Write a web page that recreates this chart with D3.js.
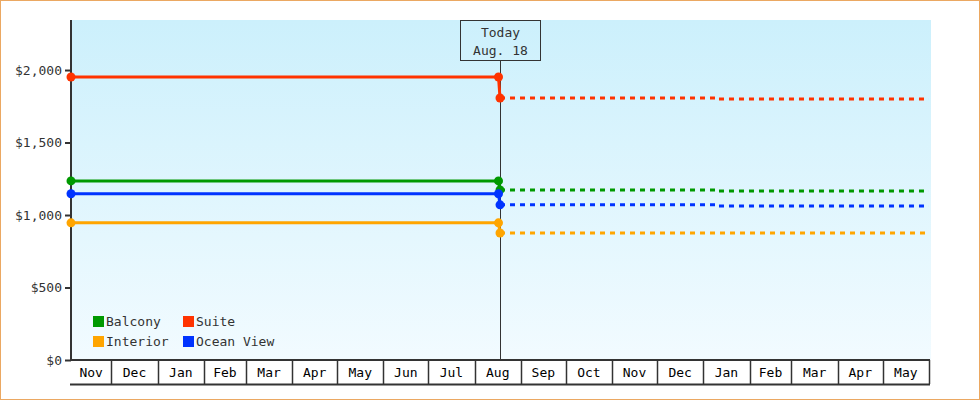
<!DOCTYPE html>
<html>
<head>
<meta charset="utf-8">
<script src="https://cdn.jsdelivr.net/npm/d3@7"></script>
<style>
  body { margin: 0; background: #fff; }
  svg { display: block; font-family: "DejaVu Sans Mono", monospace; }
</style>
</head>
<body>
<div id="chart"></div>
<script>
// Data
const seriesNames = ["Balcony", "Suite", "Interior", "Ocean View"];
const seriesColors = ["#009900", "#ff3300", "#ffa500", "#0033ff"];

// historic prices (solid), last point is today's value
const pastDates = ["2013-11-04", "2014-08-17", "2014-08-18"];
const pastBalcony = [1235, 1235, 1173];
const pastSuite = [1952, 1952, 1807];
const pastInterior = [946, 946, 876];
const pastOceanView = [1147, 1147, 1070];

// forecast prices (dashed)
const futureDates = ["2014-08-18", "2015-01-10", "2015-06-01"];
const futureBalcony = [1173, 1166, 1166];
const futureSuite = [1807, 1800, 1800];
const futureInterior = [876, 876, 876];
const futureOceanView = [1070, 1063, 1063];

const yTicks = [0, 500, 1000, 1500, 2000];
const todayLabel = ["Today", "Aug. 18"];
const todayDate = "2014-08-18";
const domainStart = "2013-11-04";
const domainEnd = "2015-06-01";

const parse = d3.timeParse("%Y-%m-%d");
const pastValues = [pastBalcony, pastSuite, pastInterior, pastOceanView];
const futureValues = [futureBalcony, futureSuite, futureInterior, futureOceanView];

const width = 980, height = 400;
const plot = {left: 71, right: 929, top: 20, bottom: 360};

const svg = d3.select("#chart").append("svg")
    .attr("width", width)
    .attr("height", height);

// outer frame
svg.append("rect")
    .attr("x", 0.5).attr("y", 0.5)
    .attr("width", width - 1).attr("height", height - 1)
    .attr("fill", "#fff")
    .attr("stroke", "#eba862");

const x = d3.scaleTime()
    .domain([parse(domainStart), parse(domainEnd)])
    .range([plot.left, plot.right]);

const y = d3.scaleLinear()
    .domain([0, 2345])
    .range([plot.bottom, plot.top]);

// background gradient
const grad = svg.append("defs").append("linearGradient")
    .attr("id", "bg").attr("x1", 0).attr("y1", 0).attr("x2", 0).attr("y2", 1);
grad.append("stop").attr("offset", "0%").attr("stop-color", "#ccf0fc");
grad.append("stop").attr("offset", "100%").attr("stop-color", "#f2fbff");

svg.append("rect")
    .attr("x", plot.left).attr("y", plot.top)
    .attr("width", plot.right + 2 - plot.left).attr("height", plot.bottom - plot.top)
    .attr("fill", "url(#bg)");

// y axis
const yAxis = svg.append("g")
    .attr("transform", `translate(${plot.left},0)`)
    .call(d3.axisLeft(y).tickValues(yTicks).tickFormat(d3.format("$,")).tickSize(6).tickPadding(3));
yAxis.select(".domain").remove();
yAxis.selectAll(".tick line").attr("stroke", "#333").attr("stroke-width", 2);
yAxis.selectAll("text").attr("fill", "#333").style("font-size", "13px")
    .style("font-family", "DejaVu Sans Mono, monospace");
svg.append("line")
    .attr("x1", plot.left).attr("x2", plot.left)
    .attr("y1", plot.top).attr("y2", plot.bottom + 1)
    .attr("stroke", "#333").attr("stroke-width", 2);

// x axis month cells
const months = d3.timeMonth.range(d3.timeMonth.floor(x.domain()[0]), x.domain()[1]);
const xAxis = svg.append("g");
xAxis.append("line")
    .attr("x1", plot.left - 1).attr("x2", plot.right + 1)
    .attr("y1", plot.bottom).attr("y2", plot.bottom)
    .attr("stroke", "#333").attr("stroke-width", 2);
xAxis.append("line")
    .attr("x1", plot.left - 1).attr("x2", plot.right + 1)
    .attr("y1", plot.bottom + 24.5).attr("y2", plot.bottom + 24.5)
    .attr("stroke", "#333").attr("stroke-width", 2);

const boundaries = d3.timeMonth.range(d3.timeMonth.ceil(x.domain()[0]), d3.timeDay.offset(x.domain()[1], 1));
xAxis.selectAll(".sep")
    .data(boundaries)
    .enter().append("line")
    .attr("class", "sep")
    .attr("x1", d => Math.round(x(d)) + 0.5).attr("x2", d => Math.round(x(d)) + 0.5)
    .attr("y1", plot.bottom).attr("y2", plot.bottom + 24)
    .attr("stroke", "#333").attr("stroke-width", 1.5);

xAxis.selectAll(".mlabel")
    .data(months)
    .enter().append("text")
    .attr("class", "mlabel")
    .attr("x", d => {
        const a = Math.max(x(d), plot.left);
        const b = Math.min(x(d3.timeMonth.offset(d, 1)), plot.right);
        return (a + b) / 2;
    })
    .attr("y", plot.bottom + 17)
    .attr("text-anchor", "middle")
    .attr("fill", "#000")
    .style("font-size", "13px")
    .text(d3.timeFormat("%b"));

// today marker
const tx = Math.round(x(parse(todayDate))) + 0.5;
svg.append("line")
    .attr("x1", tx).attr("x2", tx)
    .attr("y1", 60).attr("y2", plot.bottom)
    .attr("stroke", "#333").attr("stroke-width", 1);
svg.append("rect")
    .attr("x", tx - 40).attr("y", 20.5)
    .attr("width", 80).attr("height", 40)
    .attr("fill", "none")
    .attr("stroke", "#333");
svg.selectAll(".today")
    .data(todayLabel)
    .enter().append("text")
    .attr("class", "today")
    .attr("x", tx)
    .attr("y", (d, i) => 37 + i * 18)
    .attr("text-anchor", "middle")
    .attr("fill", "#333")
    .style("font-size", "13px")
    .text(d => d);

// lines
const line = d3.line()
    .x(d => x(d.date))
    .y(d => y(d.value));
const stepLine = d3.line()
    .x(d => x(d.date))
    .y(d => y(d.value))
    .curve(d3.curveStepAfter);

seriesNames.forEach((name, i) => {
    const past = pastDates.map((d, j) => ({date: parse(d), value: pastValues[i][j]}));
    const future = futureDates.map((d, j) => ({date: parse(d), value: futureValues[i][j]}));

    svg.append("path")
        .datum(future)
        .attr("d", stepLine)
        .attr("fill", "none")
        .attr("stroke", seriesColors[i])
        .attr("stroke-width", 3)
        .attr("stroke-dasharray", "5,5");

    svg.append("path")
        .datum(past)
        .attr("d", line)
        .attr("fill", "none")
        .attr("stroke", seriesColors[i])
        .attr("stroke-width", 3);

    svg.selectAll(".dot" + i)
        .data(past)
        .enter().append("circle")
        .attr("cx", d => x(d.date))
        .attr("cy", d => y(d.value))
        .attr("r", 4.5)
        .attr("fill", seriesColors[i]);
});

// legend
const legendX = [93, 183];
const legendY = [316, 336];
const legend = svg.append("g");
seriesNames.forEach((name, i) => {
    const lx = legendX[i % 2], ly = legendY[Math.floor(i / 2)];
    legend.append("rect")
        .attr("x", lx).attr("y", ly)
        .attr("width", 11).attr("height", 11)
        .attr("fill", seriesColors[i]);
    legend.append("text")
        .attr("x", lx + 13).attr("y", ly + 10)
        .attr("fill", "#333")
        .style("font-size", "13px")
        .text(name);
});
</script>
</body>
</html>
